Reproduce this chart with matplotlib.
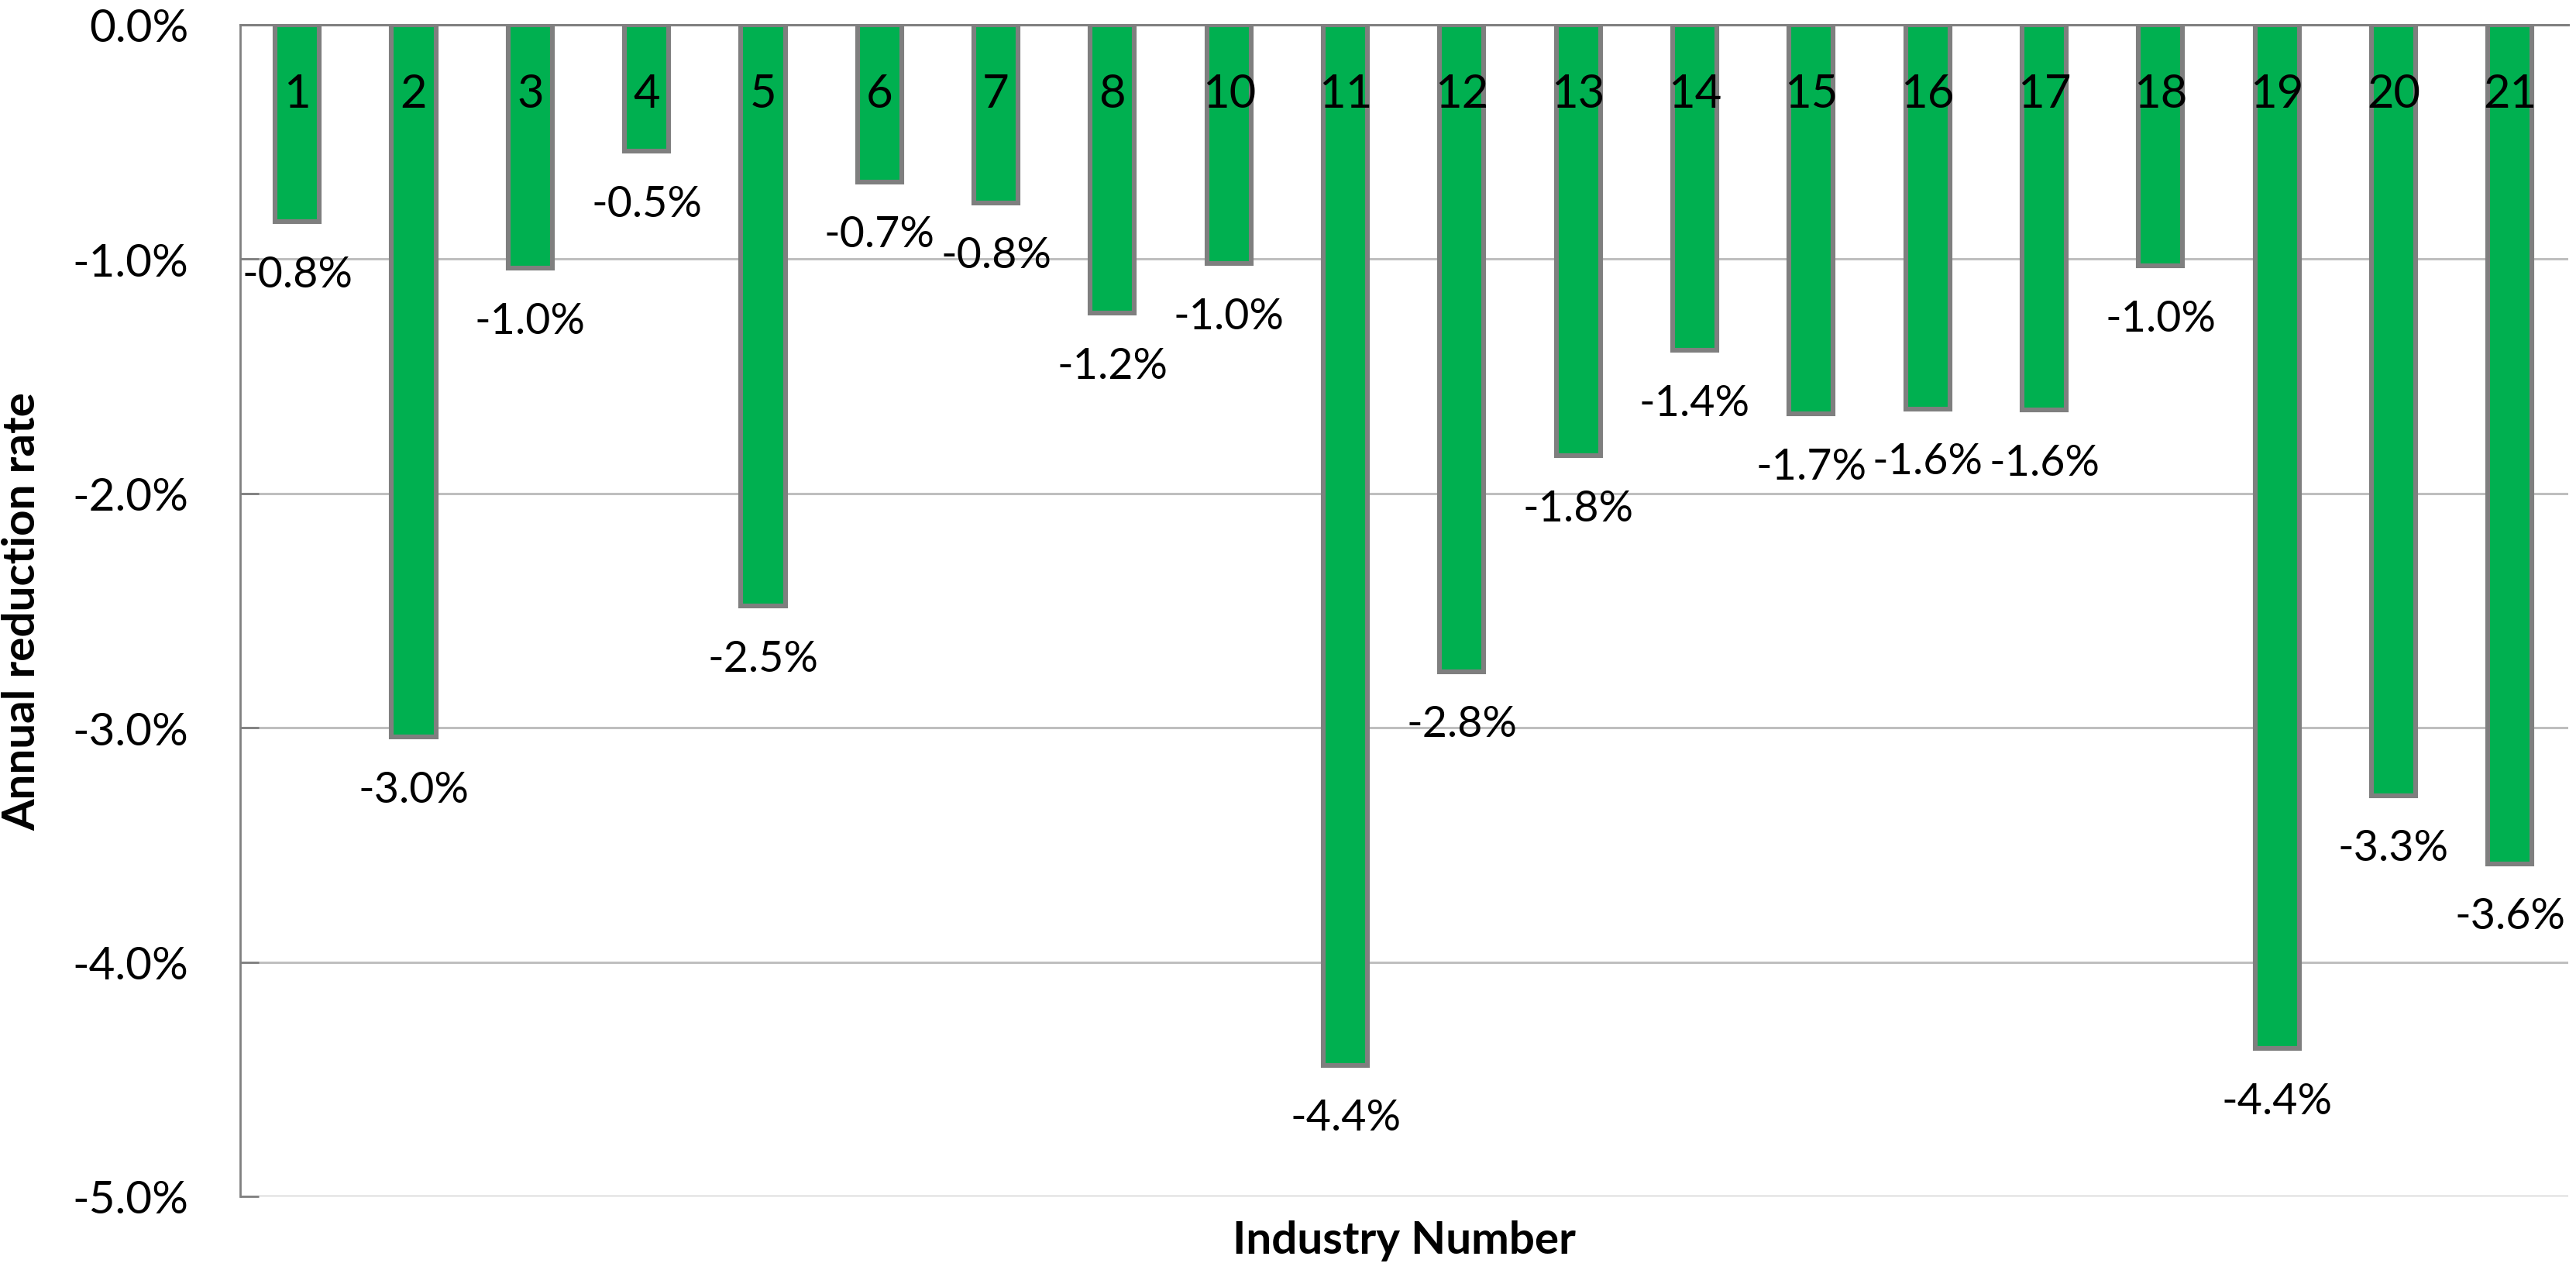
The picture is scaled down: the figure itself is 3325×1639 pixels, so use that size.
import matplotlib.pyplot as plt
from matplotlib.ticker import FuncFormatter

# industry numbers (no 9) and annual reduction rate in %
industries = ['1', '2', '3', '4', '5', '6', '7', '8', '10', '11',
              '12', '13', '14', '15', '16', '17', '18', '19', '20', '21']
rates = [-0.84, -3.04, -1.04, -0.54, -2.48, -0.67, -0.76, -1.23, -1.02, -4.44,
         -2.76, -1.84, -1.39, -1.66, -1.64, -1.644, -1.03, -4.37, -3.29, -3.58]
y_ticks = [0, -1, -2, -3, -4, -5]

plt.rcParams['font.family'] = ['Lato', 'DejaVu Sans']

fig = plt.figure(figsize=(16.625, 8.2), dpi=200)
ax = fig.add_axes([310 / 3325, 1 - 1545 / 1640, 3005 / 3325, 1512 / 1640])

x = list(range(len(industries)))
ax.bar(x, rates, width=0.38, color='#00B050', edgecolor='#7F7F7F',
       linewidth=2.2, zorder=3)

# value labels below each bar end
for xi, v in zip(x, rates):
    ax.annotate(f"{v:.1f}%", (xi, v), xytext=(0, -24.5), textcoords='offset points',
                ha='center', va='center', fontsize=20, color='black', zorder=4)

# category numbers sit just under the zero line, inside the plot
for xi, name in zip(x, industries):
    ax.text(xi, -0.295, name, ha='center', va='center', fontsize=21.5,
            color='black', zorder=4)

ax.set_xlim(-0.49, len(industries) - 0.5)
ax.set_ylim(-5, 0)
ax.set_yticks(y_ticks)
ax.yaxis.set_major_formatter(FuncFormatter(lambda v, p: f"{abs(v):.1f}%" if v == 0 else f"{v:.1f}%"))
ax.set_xticks([])
ax.tick_params(axis='y', direction='in', length=8.6, width=1.0, color='#808080',
               labelsize=21, pad=24)

ax.grid(axis='y', color='#BFBFBF', linewidth=1.1, zorder=0)
ax.set_axisbelow(True)

for side in ['right', 'bottom']:
    ax.spines[side].set_visible(False)
ax.spines['top'].set_color('#808080')
ax.spines['top'].set_linewidth(1.1)
ax.spines['top'].set_zorder(5)
ax.spines['left'].set_color('#808080')
ax.spines['left'].set_linewidth(1.0)

fig.text(29 / 3325, 1 - 789 / 1640, 'Annual reduction rate', rotation=90,
         ha='center', va='center', fontsize=21, fontweight='bold')
fig.text(1812 / 3325, 1 - 1618 / 1640, 'Industry Number', ha='center',
         va='baseline', fontsize=21, fontweight='bold')

fig.savefig('out.png', dpi=200)
